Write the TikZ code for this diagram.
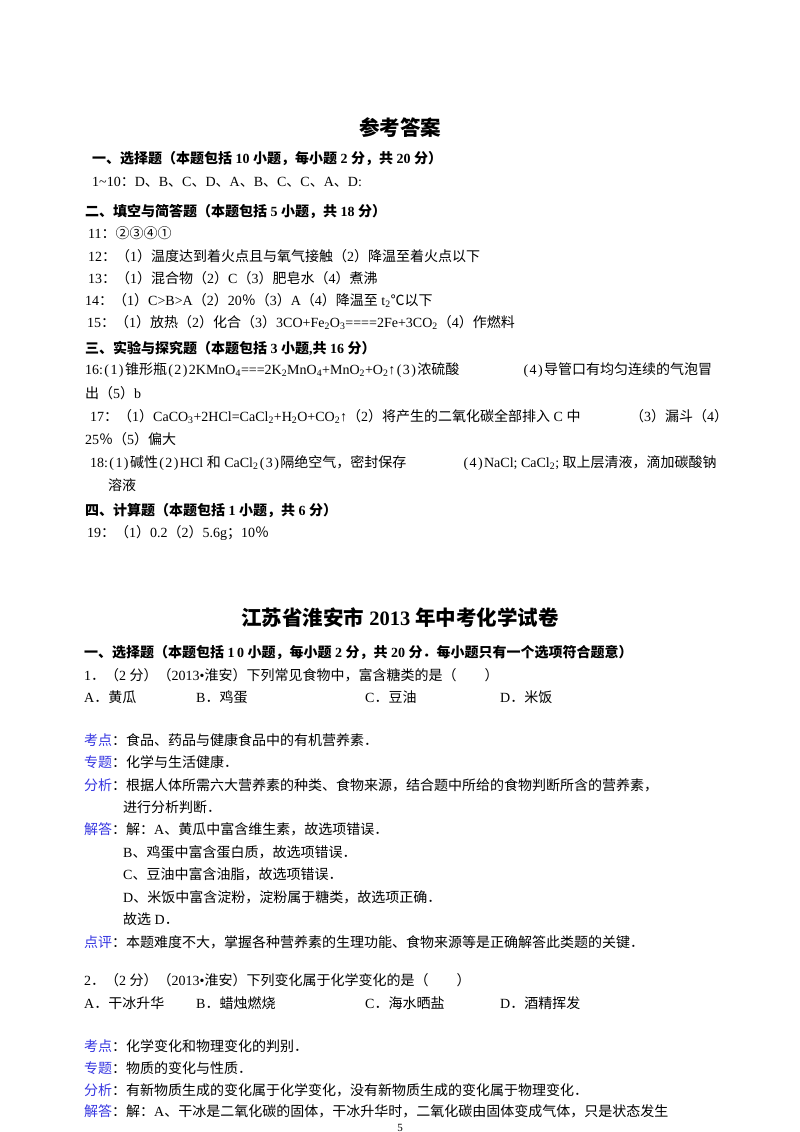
\documentclass[tikz,border=0pt]{standalone}
\usepackage{fontspec}
\setmainfont{Liberation Serif}
\newfontfamily\cjk{Noto Sans CJK SC}
\newXeTeXintercharclass\cjkclass
\newcount\mycnt
\newcommand\setcls[2]{\mycnt=#1\relax\loop\XeTeXcharclass\mycnt=\cjkclass\advance\mycnt 1\relax\ifnum\mycnt<#2\repeat}
\setcls{"3000}{"3040}
\setcls{"3400}{"A000}
\setcls{"FF00}{"FFF0}
\setcls{"2460}{"2500}
\setcls{"2103}{"2104}
\XeTeXinterchartokenstate=1
\XeTeXinterchartoks 0 \cjkclass = {\begingroup\cjk}
\XeTeXinterchartoks 4095 \cjkclass = {\begingroup\cjk}
\XeTeXinterchartoks \cjkclass 0 = {\endgroup}
\XeTeXinterchartoks \cjkclass 4095 = {\endgroup}
\definecolor{lab}{RGB}{55,55,225}
\tikzset{t/.style={anchor=base west,inner sep=0pt,font=\fontsize{14}{16}\selectfont},
h/.style={t,font=\fontsize{14}{16}\selectfont\bfseries},
ttl/.style={anchor=base,inner sep=0pt,font=\fontsize{20.5}{24}\selectfont\bfseries}}
\newcommand\lb[1]{{\color{lab}#1}}
\newcommand\lp{\hspace{0.1em}(\hspace{0.1em}}
\newcommand\rp{\hspace{0.1em})\hspace{0.1em}}
\begin{document}
\begin{tikzpicture}[x=1pt,y=-1pt]
\useasboundingbox[fill=white] (0,0) rectangle (800,1132);
\node[ttl] (t1) at (400,135) {参考答案};
\node[h] (a1) at (92,163) {一、选择题（本题包括 10 小题，每小题 2 分，共 20 分）};
\node[t] (a2) at (92,186) {1\textasciitilde10：D、B、C、D、A、B、C、C、A、D:};
\node[h] (a3) at (85,216) {二、填空与简答题（本题包括 5 小题，共 18 分）};
\node[t] (a4) at (88,238) {11：②③④①};
\node[t] (a5) at (88,261) {12：（1）温度达到着火点且与氧气接触（2）降温至着火点以下};
\node[t] (a6) at (88,283) {13：（1）混合物（2）C（3）肥皂水（4）煮沸};
\node[t] (a7) at (85,305) {14：（1）C>B>A（2）20％（3）A（4）降温至 t\textsubscript{2}℃以下};
\node[t] (a8) at (87,327) {15：（1）放热（2）化合（3）3CO+Fe\textsubscript{2}O\textsubscript{3}====2Fe+3CO\textsubscript{2}（4）作燃料};
\node[h] (a9) at (85,353) {三、实验与探究题（本题包括 3 小题,共 16 分）};
\node[t] (b1) at (85,374) {16:\lp{}1\rp{}锥形瓶\lp{}2\rp{}2KMnO\textsubscript{4}===2K\textsubscript{2}MnO\textsubscript{4}+MnO\textsubscript{2}+O\textsubscript{2}↑\lp{}3\rp{}浓硫酸};
\node[t] (b2) at (522,374) {\lp{}4\rp{}导管口有均匀连续的气泡冒};
\node[t] (b3) at (85,398) {出（5）b};
\node[t] (b4) at (90,421) {17：（1）CaCO\textsubscript{3}+2HCl=CaCl\textsubscript{2}+H\textsubscript{2}O+CO\textsubscript{2}↑（2）将产生的二氧化碳全部排入 C 中};
\node[t] (b5) at (630,421) {（3）漏斗（4）};
\node[t] (b6) at (85,444) {25％（5）偏大};
\node[t] (b7) at (90,467) {18:\lp{}1\rp{}碱性\lp{}2\rp{}HCl 和 CaCl\textsubscript{2}\lp{}3\rp{}隔绝空气，密封保存};
\node[t] (b8) at (462,467) {\lp{}4\rp{}NaCl; CaCl\textsubscript{2}; 取上层清液，滴加碳酸钠};
\node[t] (b9) at (108,490) {溶液};
\node[h] (c1) at (85,515) {四、计算题（本题包括 1 小题，共 6 分）};
\node[t] (c2) at (87,537) {19：（1）0.2（2）5.6g；10％};
\node[ttl] (t2) at (400,625) {江苏省淮安市 2013 年中考化学试卷};
\node[h] (d1) at (84,657) {一、选择题（本题包括 1\,0 小题，每小题 2 分，共 20 分．每小题只有一个选项符合题意）};
\node[t] (d2) at (84,680) {1．（2 分）（2013•淮安）下列常见食物中，富含糖类的是（\quad\quad）};
\node[t] (d3) at (84,702) {A．黄瓜};
\node[t] (d4) at (196,702) {B．鸡蛋};
\node[t] (d5) at (365,702) {C．豆油};
\node[t] (d6) at (500,702) {D．米饭};
\node[t] (e1) at (84,745) {\lb{考点}：食品、药品与健康食品中的有机营养素．};
\node[t] (e2) at (84,767) {\lb{专题}：化学与生活健康．};
\node[t] (e3) at (84,790) {\lb{分析}：根据人体所需六大营养素的种类、食物来源，结合题中所给的食物判断所含的营养素，};
\node[t] (e4) at (123,812) {进行分析判断．};
\node[t] (e5) at (84,834) {\lb{解答}：解：A、黄瓜中富含维生素，故选项错误．};
\node[t] (e6) at (123,857) {B、鸡蛋中富含蛋白质，故选项错误．};
\node[t] (e7) at (123,879) {C、豆油中富含油脂，故选项错误．};
\node[t] (e8) at (123,902) {D、米饭中富含淀粉，淀粉属于糖类，故选项正确．};
\node[t] (e9) at (123,924) {故选 D．};
\node[t] (f1) at (84,947) {\lb{点评}：本题难度不大，掌握各种营养素的生理功能、食物来源等是正确解答此类题的关键．};
\node[t] (g1) at (84,985) {2．（2 分）（2013•淮安）下列变化属于化学变化的是（\quad\quad）};
\node[t] (g2) at (84,1008) {A．干冰升华};
\node[t] (g3) at (196,1008) {B．蜡烛燃烧};
\node[t] (g4) at (365,1008) {C．海水晒盐};
\node[t] (g5) at (500,1008) {D．酒精挥发};
\node[t] (h1) at (84,1051) {\lb{考点}：化学变化和物理变化的判别．};
\node[t] (h2) at (84,1073) {\lb{专题}：物质的变化与性质．};
\node[t] (h3) at (84,1095) {\lb{分析}：有新物质生成的变化属于化学变化，没有新物质生成的变化属于物理变化．};
\node[t] (h4) at (84,1116) {\lb{解答}：解：A、干冰是二氧化碳的固体，干冰升华时，二氧化碳由固体变成气体，只是状态发生};
\node[anchor=base,inner sep=0pt,font=\fontsize{11}{13}\selectfont] (pg) at (400,1131) {5};
\end{tikzpicture}
\end{document}
